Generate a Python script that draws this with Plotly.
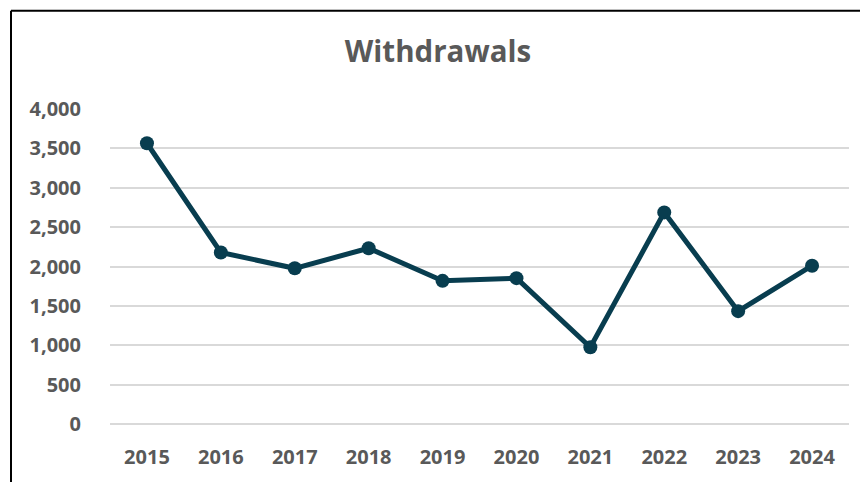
import plotly.graph_objects as go

years = ["2015", "2016", "2017", "2018", "2019", "2020", "2021", "2022", "2023", "2024"]
withdrawals = [3565, 2178, 1977, 2232, 1818, 1852, 974, 2687, 1433, 2010]

grey = "#595959"
line_col = "#083d4f"

fig = go.Figure()
fig.add_trace(go.Scatter(
    x=years, y=withdrawals, mode="lines+markers",
    line=dict(color=line_col, width=5),
    marker=dict(color=line_col, size=14),
    cliponaxis=False,
))

# page body has an 8px margin: the figure starts at (8, 8) on screen
OFF = 8
W, H = 868 - OFF, 482 - OFF
l, r, t, b = 110 - OFF, 19, 109 - OFF, 52
pw, ph = W - l - r, H - t - b
fx = lambda px: (px - OFF - l) / pw
fy = lambda py: (H - b - (py - OFF)) / ph

# chart frame (only top and left edges are inside the picture)
fig.add_shape(type="line", xref="paper", yref="paper",
              x0=fx(11), x1=fx(880), y0=fy(9), y1=fy(9),
              line=dict(color="black", width=2))
fig.add_shape(type="line", xref="paper", yref="paper",
              x0=fx(11), x1=fx(11), y0=fy(9), y1=fy(490),
              line=dict(color="black", width=2))

tick_font = dict(size=20, color=grey, family="Open Sans", weight="bold")

fig.update_layout(
    width=W, height=H,
    margin=dict(l=l, r=r, t=t, b=b),
    paper_bgcolor="white", plot_bgcolor="white",
    showlegend=False,
    title=dict(text="Withdrawals", x=fx(438), xanchor="center",
               xref="paper", y=1 - (52 - OFF) / H, yanchor="middle",
               font=dict(size=29.5, color=grey, family="Open Sans", weight="bold")),
)
fig.update_xaxes(
    type="category", range=[-0.5, 9.5],
    showgrid=False, zeroline=False, showline=False,
    tickfont=tick_font, ticklabelstandoff=19,
)
fig.update_yaxes(
    range=[0, 4000], tickvals=list(range(0, 4001, 500)),
    tickformat=",d",
    showgrid=True, gridcolor="#d9d9d9", gridwidth=2,
    zeroline=True, zerolinecolor="#d9d9d9", zerolinewidth=2,
    showline=False,
    tickfont=tick_font, ticklabelstandoff=28,
)

fig.write_html("out.html")
